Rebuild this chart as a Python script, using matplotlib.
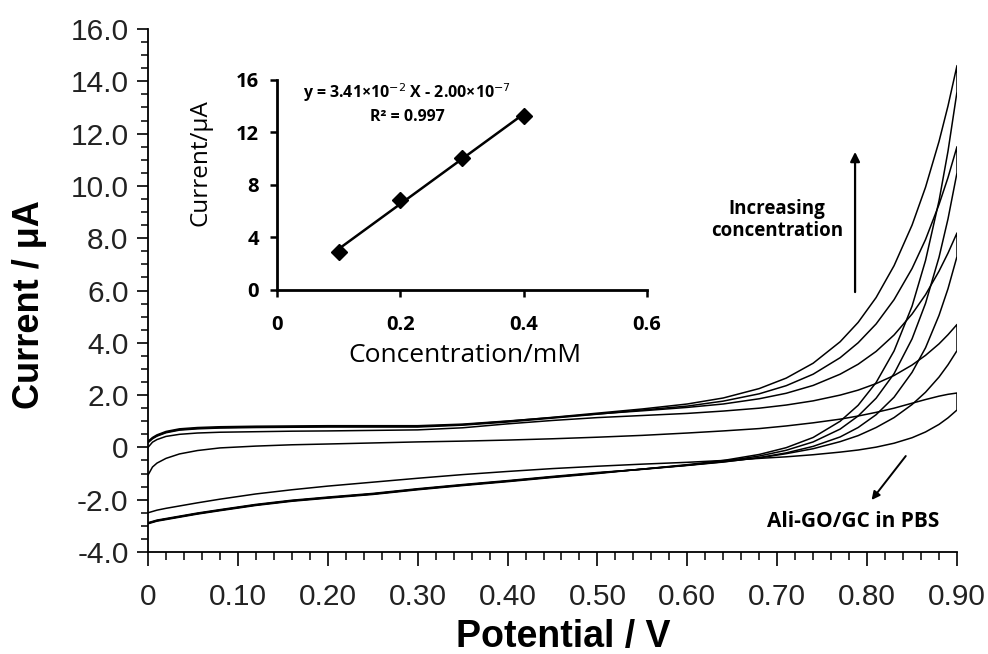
import numpy as np
import matplotlib
matplotlib.use("Agg")
import matplotlib.pyplot as plt
from matplotlib.ticker import MultipleLocator

# ---------------- data ----------------
potential = [0.000, 0.005, 0.010, 0.020, 0.035, 0.055, 0.080, 0.120, 0.160, 0.200,
             0.250, 0.300, 0.350, 0.400, 0.450, 0.500, 0.550, 0.600, 0.640, 0.680,
             0.710, 0.740, 0.770, 0.790, 0.810, 0.830, 0.850, 0.865, 0.880, 0.890, 0.900]

fwd_pbs = [-1.06, -0.75, -0.60, -0.42, -0.25, -0.12, -0.02, 0.05, 0.10, 0.13, 0.17, 0.21, 0.24,
           0.28, 0.33, 0.39, 0.46, 0.55, 0.63, 0.72, 0.82, 0.94, 1.08, 1.20, 1.34, 1.50, 1.69,
           1.83, 1.96, 2.03, 2.08]
rev_pbs = [-2.50, -2.45, -2.40, -2.33, -2.24, -2.12, -1.98, -1.78, -1.62, -1.48, -1.33, -1.18,
           -1.04, -0.92, -0.81, -0.72, -0.64, -0.57, -0.50, -0.42, -0.36, -0.28, -0.18, -0.10,
           0.01, 0.16, 0.37, 0.59, 0.88, 1.13, 1.43]

fwd_c1 = [0.00, 0.20, 0.30, 0.42, 0.50, 0.55, 0.58, 0.60, 0.62, 0.63, 0.65, 0.67, 0.75, 0.90,
          1.03, 1.14, 1.22, 1.30, 1.39, 1.50, 1.62, 1.78, 2.00, 2.19, 2.44, 2.75, 3.15, 3.52,
          3.96, 4.31, 4.70]
rev_c1 = [-2.90, -2.85, -2.80, -2.74, -2.65, -2.53, -2.40, -2.20, -2.04, -1.92, -1.78, -1.60,
          -1.44, -1.29, -1.13, -0.98, -0.83, -0.68, -0.55, -0.40, -0.24, -0.05, 0.22, 0.45,
          0.76, 1.14, 1.64, 2.11, 2.69, 3.16, 3.70]

fwd_c2 = [0.23, 0.38, 0.48, 0.61, 0.71, 0.76, 0.79, 0.81, 0.82, 0.83, 0.83, 0.83, 0.89, 1.01,
          1.14, 1.28, 1.40, 1.53, 1.66, 1.86, 2.07, 2.37, 2.80, 3.18, 3.67, 4.30, 5.10, 5.84,
          6.74, 7.43, 8.20]
rev_c2 = [-2.88, -2.83, -2.78, -2.72, -2.63, -2.51, -2.38, -2.18, -2.02, -1.90, -1.76, -1.58,
          -1.42, -1.27, -1.11, -0.96, -0.84, -0.69, -0.56, -0.39, -0.21, 0.04, 0.40, 0.76,
          1.25, 1.92, 2.87, 3.81, 5.05, 6.07, 7.30]

fwd_c3 = [0.18, 0.33, 0.43, 0.56, 0.66, 0.71, 0.74, 0.76, 0.77, 0.78, 0.78, 0.78, 0.85, 0.97,
          1.12, 1.27, 1.43, 1.58, 1.77, 2.05, 2.36, 2.80, 3.43, 4.00, 4.72, 5.65, 6.84, 7.95,
          9.29, 10.32, 11.50]
rev_c3 = [-2.92, -2.87, -2.82, -2.76, -2.67, -2.55, -2.42, -2.22, -2.06, -1.94, -1.80, -1.62,
          -1.46, -1.31, -1.15, -1.00, -0.83, -0.68, -0.53, -0.33, -0.11, 0.21, 0.70, 1.20,
          1.88, 2.82, 4.15, 5.51, 7.27, 8.74, 10.50]

fwd_c4 = [0.20, 0.35, 0.45, 0.58, 0.68, 0.73, 0.76, 0.78, 0.79, 0.80, 0.80, 0.80, 0.87, 1.00,
          1.15, 1.31, 1.47, 1.66, 1.89, 2.25, 2.65, 3.22, 4.04, 4.78, 5.73, 6.95, 8.50, 9.95,
          11.70, 13.06, 14.60]
rev_c4 = [-2.90, -2.85, -2.80, -2.74, -2.65, -2.53, -2.40, -2.20, -2.04, -1.92, -1.78, -1.60,
          -1.44, -1.29, -1.13, -0.98, -0.83, -0.66, -0.50, -0.27, -0.01, 0.38, 1.00, 1.61,
          2.48, 3.69, 5.40, 7.15, 9.43, 11.33, 13.60]

x_ticks = [0.0, 0.1, 0.2, 0.3, 0.4, 0.5, 0.6, 0.7, 0.8, 0.9]
x_tick_labels = ["0", "0.10", "0.20", "0.30", "0.40", "0.50", "0.60", "0.70", "0.80", "0.90"]
y_ticks = [-4, -2, 0, 2, 4, 6, 8, 10, 12, 14, 16]
y_tick_labels = ["-4.0", "-2.0", "0", "2.0", "4.0", "6.0", "8.0", "10.0", "12.0", "14.0", "16.0"]

# inset calibration
conc = [0.1, 0.2, 0.3, 0.4]
inset_current = [2.9, 6.86, 10.06, 13.26]
inset_x_ticks = [0, 0.2, 0.4, 0.6]
inset_x_labels = ["0", "0.2", "0.4", "0.6"]
inset_y_ticks = [0, 4, 8, 12, 16]

# ---------------- figure ----------------
fig = plt.figure(figsize=(9.88, 6.54), dpi=100)
W, H = 988, 654
ax = fig.add_axes([148 / W, 1 - 552 / H, 809 / W, 523 / H])

cvs = [(fwd_pbs, rev_pbs), (fwd_c1, rev_c1), (fwd_c2, rev_c2), (fwd_c3, rev_c3), (fwd_c4, rev_c4)]
pot = np.array(potential)
for f, r in cvs:
    xs = np.concatenate([pot, pot[::-1]])
    ys = np.concatenate([np.array(f), np.array(r)[::-1]])
    ax.plot(xs, ys, color="black", lw=1.1)

ax.set_xlim(0, 0.9)
ax.set_ylim(-4, 16)
for s in ["top", "right"]:
    ax.spines[s].set_visible(False)
for s in ["left", "bottom"]:
    ax.spines[s].set_linewidth(1.3)

main_font = "Liberation Sans"
ax.set_xticks(x_ticks)
ax.set_xticklabels(x_tick_labels, fontsize=21.5, family=main_font, color="#222222")
ax.set_yticks(y_ticks)
ax.set_yticklabels(y_tick_labels, fontsize=21.5, family=main_font, color="#222222")
ax.xaxis.set_minor_locator(MultipleLocator(0.02))
ax.yaxis.set_minor_locator(MultipleLocator(0.5))
ax.tick_params(axis="x", which="major", direction="out", length=10, width=1.2, pad=12)
ax.tick_params(axis="x", which="minor", direction="out", length=6, width=1.1)
ax.tick_params(axis="y", which="major", direction="out", length=8, width=1.2, pad=6)
ax.tick_params(axis="y", which="minor", direction="out", length=5, width=1.1)

ax.set_xlabel("Potential / V", fontsize=27, fontweight="bold", family=main_font, va="center")
ax.xaxis.set_label_coords((563 - 148) / 809, (552 - 637) / 523)
ax.set_ylabel("Current / μA", fontsize=26, fontweight="bold", family=main_font, va="center")
ax.yaxis.set_label_coords((29 - 148) / 809, (552 - 305) / 523)

ann_font = ["Open Sans", "DejaVu Sans"]
ax.text(0.70, 8.70, "Increasing\nconcentration", ha="center", va="center", fontsize=13.5,
        fontweight="bold", family=ann_font, linespacing=1.1)
ax.annotate("", xy=(0.7866, 11.3), xytext=(0.7866, 5.94),
            arrowprops=dict(arrowstyle="-|>", color="black", lw=1.6, mutation_scale=14,
                            shrinkA=0, shrinkB=0))
ax.text(0.784, -2.85, "Ali-GO/GC in PBS", ha="center", va="center", fontsize=15,
        fontweight="bold", family=ann_font)
ax.annotate("", xy=(0.805, -2.01), xytext=(0.843, -0.33),
            arrowprops=dict(arrowstyle="-|>", color="black", lw=1.4, mutation_scale=12,
                            shrinkA=0, shrinkB=0))

# ---------------- inset ----------------
ins = fig.add_axes([277 / W, 1 - 290 / H, 370 / W, 210 / H])
coef = np.polyfit(conc, inset_current, 1)
fit_x = np.array([conc[0], conc[-1]])
ins.plot(fit_x, np.polyval(coef, fit_x), color="black", lw=1.8)
ins.plot(conc, inset_current, linestyle="none", marker="D", markersize=8, color="black")
ins.set_xlim(0, 0.6)
ins.set_ylim(0, 16)
ins.patch.set_alpha(0)
for s in ["top", "right"]:
    ins.spines[s].set_visible(False)
for s in ["left", "bottom"]:
    ins.spines[s].set_linewidth(2.0)
ins.set_xticks(inset_x_ticks)
ins.set_xticklabels(inset_x_labels, fontsize=14.5, fontweight="bold", family=ann_font)
ins.set_yticks(inset_y_ticks)
ins.set_yticklabels([str(v) for v in inset_y_ticks], fontsize=14.5, fontweight="bold", family=ann_font)
ins.tick_params(axis="both", direction="out", length=5, width=1.8)
ins.tick_params(axis="x", pad=13)
ins.tick_params(axis="y", pad=8)
ins.set_xlabel("Concentration/mM", fontsize=19, fontweight="medium", family=ann_font, va="center")
ins.xaxis.set_label_coords((465 - 277) / 370, (290 - 356) / 210)
ins.set_ylabel("Current/μA", fontsize=17.5, family=ann_font, va="center")
ins.yaxis.set_label_coords((200 - 277) / 370, (290 - 163) / 210)
ins.text(0.211, 15.0, r"y = 3.41×10$^{-2}$ X - 2.00×10$^{-7}$", ha="center", va="center",
         fontsize=11.5, fontweight="bold", family=ann_font)
ins.text(0.211, 13.2, "R² = 0.997", ha="center", va="center", fontsize=11.5,
         fontweight="bold", family=ann_font)

fig.savefig("out.png", dpi=100)
